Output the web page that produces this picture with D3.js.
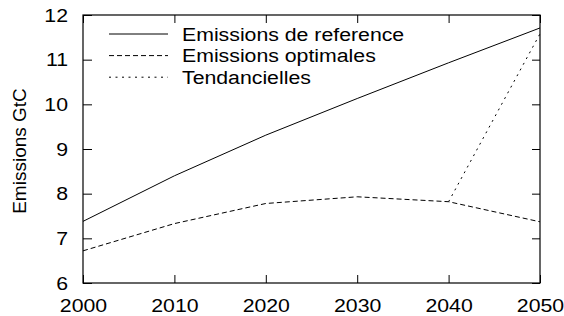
<!DOCTYPE html>
<html>
<head>
    <script src="https://d3js.org/d3.v7.min.js"></script>
    <style>
        body { margin: 0; background: #fff; }
        text { font-family: 'Liberation Sans', Arial, sans-serif; fill: #000; }
        .line { fill: none; stroke: #000; stroke-width: 1px; }
    </style>
</head>
<body>
<div id="chart"></div>
<script>
    // data
    const years = [2000, 2010, 2020, 2030, 2040, 2050];
    const reference = [7.38, 8.40, 9.31, 10.13, 10.93, 11.71];
    const optimal = [6.72, 7.33, 7.78, 7.93, 7.82, 7.37];
    const trendYears = [2040, 2050];
    const trend = [7.82, 11.58];
    const yTicks = [6, 7, 8, 9, 10, 11, 12];
    const xTicks = [2000, 2010, 2020, 2030, 2040, 2050];
    const seriesNames = ["Emissions de reference", "Emissions optimales", "Tendancielles"];

    const W = 564, H = 316;
    const margin = {top: 15, right: 24, bottom: 33, left: 83},
        width = W - margin.left - margin.right,
        height = H - margin.top - margin.bottom;
    const fs = 19, sx = 1.12;

    const svg = d3.select("#chart").append("svg")
        .attr("width", W).attr("height", H)
        .append("g")
        .attr("transform", "translate(" + margin.left + "," + margin.top + ")");

    const x = d3.scaleLinear().domain([2000, 2050]).range([0, width]);
    const y = d3.scaleLinear().domain([6, 12]).range([height, 0]);

    function styleAxis(g) {
        g.select(".domain").remove();
        g.selectAll("line").attr("stroke", "#000");
        g.selectAll("text").style("font-size", fs + "px").attr("fill", "#000");
    }

    // ticks on all four sides, pointing inward
    svg.append("g").attr("transform", "translate(0," + height + ")")
        .call(d3.axisBottom(x).tickValues(xTicks).tickFormat(d3.format("d")).tickSize(-8).tickPadding(16))
        .call(styleAxis)
        .selectAll("text").attr("transform", "scale(" + sx + ",1)");
    svg.append("g")
        .call(d3.axisTop(x).tickValues(xTicks).tickSize(-8).tickFormat(""))
        .call(styleAxis);
    svg.append("g")
        .call(d3.axisLeft(y).tickValues(yTicks).tickFormat(d3.format("d")).tickSize(-9).tickPadding(14))
        .call(styleAxis)
        .selectAll("text").attr("transform", "scale(" + sx + ",1)").attr("x", -15 / sx);
    svg.append("g").attr("transform", "translate(" + width + ",0)")
        .call(d3.axisRight(y).tickValues(yTicks).tickSize(-8).tickFormat(""))
        .call(styleAxis);

    svg.append("rect")
        .attr("width", width).attr("height", height)
        .attr("fill", "none").attr("stroke", "#000").attr("stroke-width", 1.2);

    svg.append("text")
        .attr("transform", "translate(" + (26 - margin.left) + "," + (height / 2 + 2) + ") rotate(-90)")
        .attr("text-anchor", "middle")
        .style("font-size", fs + "px")
        .text("Emissions GtC");

    const line = d3.line().x(d => x(d[0])).y(d => y(d[1]));
    const dashes = [null, "5,3", "2,4.5"];

    svg.append("path").attr("class", "line")
        .attr("d", line(years.map((yr, i) => [yr, reference[i]])));
    svg.append("path").attr("class", "line").attr("stroke-dasharray", dashes[1])
        .attr("d", line(years.map((yr, i) => [yr, optimal[i]])));
    svg.append("path").attr("class", "line").attr("stroke-dasharray", dashes[2])
        .attr("d", line(trendYears.map((yr, i) => [yr, trend[i]])));

    // legend
    const legend = svg.append("g").attr("transform", "translate(26,19)");
    seriesNames.forEach(function(name, i) {
        const row = legend.append("g").attr("transform", "translate(0," + (i * 21.6) + ")");
        row.append("line").attr("class", "line")
            .attr("x1", 0).attr("x2", 59).attr("y1", 0).attr("y2", 0)
            .attr("stroke-dasharray", dashes[i]);
        row.append("text")
            .attr("transform", "translate(73,0) scale(" + sx + ",1)")
            .attr("dy", "0.35em")
            .style("font-size", fs + "px")
            .text(name);
    });
</script>
</body>
</html>
